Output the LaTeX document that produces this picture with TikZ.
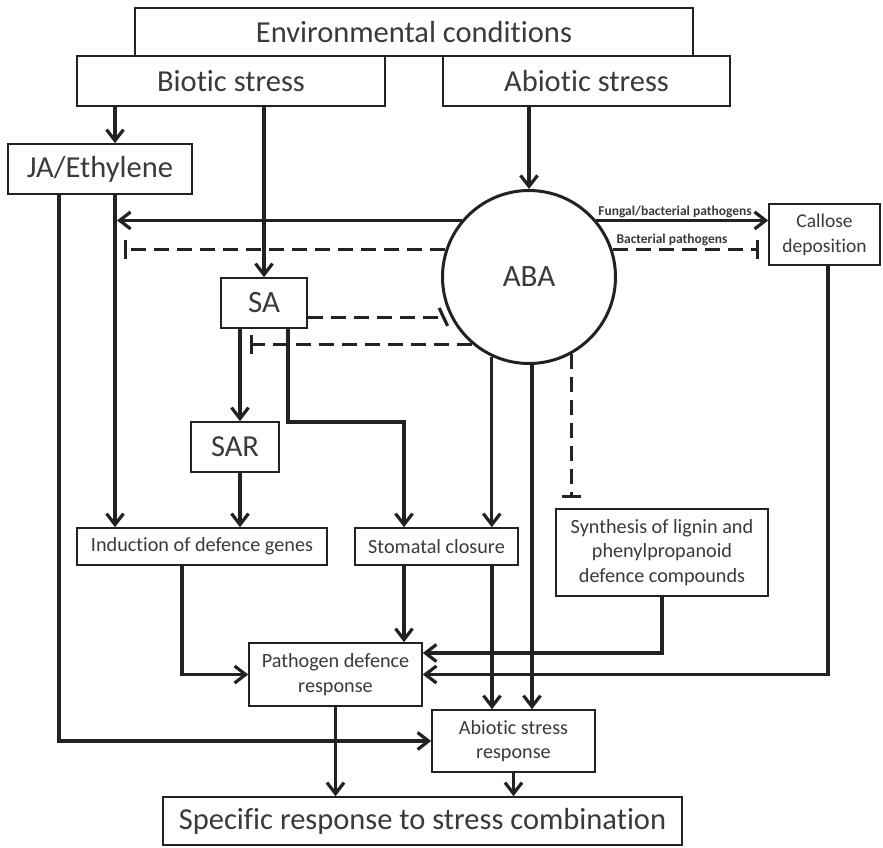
\documentclass[tikz,border=0pt]{standalone}
\usepackage{fontspec}
\setmainfont{Carlito}[Ligatures=NoCommon]
\usetikzlibrary{arrows.meta,calc}

\definecolor{ink}{HTML}{222222}
\definecolor{txt}{HTML}{3A3A3A}

\tikzset{
  box/.style={draw=ink, line width=1.6pt, fill=white, inner sep=0pt, text=txt, align=center},
  big/.style={font=\fontsize{30.5}{35}\selectfont},
  mid/.style={font=\fontsize{20.2}{24.5}\selectfont},
  link/.style={draw=ink, line width=3.2pt},
  arr/.style={link, -{Straight Barb[length=11pt,width=17pt]}},
  dsh/.style={link, dash pattern=on 15pt off 8pt},
  inh/.style={dsh, -{Bar[width=19pt]}},
  lbl/.style={font=\fontsize{13.5}{15}\selectfont\bfseries, text=txt, inner sep=0pt},
}

\begin{document}
\begin{tikzpicture}[x=1pt,y=-1pt]
\useasboundingbox (0,0) rectangle (883,847);

% boxes
\node[box,big,minimum width=558pt,minimum height=48pt] (env) at (414,32) {Environmental conditions};
\node[box,big,minimum width=308pt,minimum height=50pt] (biotic) at (231,81) {Biotic stress};
\node[box,big,minimum width=287pt,minimum height=50pt] (abiotic) at (586.5,81) {Abiotic stress};
\node[box,big,minimum width=184pt,minimum height=50pt] (ja) at (100,169) {JA/Ethylene};
\node[circle,draw=ink,line width=3pt,fill=white,minimum size=173pt,inner sep=0pt,text=txt,
      font=\fontsize{31}{35}\selectfont] (aba) at (529,277) {ABA};
\node[box,font=\fontsize{31}{35}\selectfont,minimum width=86pt,minimum height=50pt] (sa) at (264,303) {SA};
\node[box,font=\fontsize{30.5}{35}\selectfont,minimum width=88pt,minimum height=50pt] (sar) at (235,447) {SAR};
\node[box,font=\fontsize{19.5}{25}\selectfont,minimum width=111pt,minimum height=61pt] (callose) at (824.5,234.5) {Callose\\deposition};
\node[box,mid,minimum width=250pt,minimum height=37pt] (induction) at (202,546.5) {Induction of defence genes};
\node[box,mid,minimum width=163pt,minimum height=37pt] (stomatal) at (436.5,546.5) {Stomatal closure};
\node[box,mid,minimum width=212pt,minimum height=87pt] (synthesis) at (662,552.5) {Synthesis of lignin and\\phenylpropanoid\\defence compounds};
\node[box,mid,minimum width=173pt,minimum height=63pt] (pathogen) at (335.5,674.5) {Pathogen defence\\response};
\node[box,mid,minimum width=163pt,minimum height=62pt] (abresp) at (513.5,741) {Abiotic stress\\response};
\node[box,big,minimum width=519pt,minimum height=48pt] (specific) at (422.5,821) {Specific response to stress combination};

% connector columns and rows
\coordinate (x59) at (59,0);
\coordinate (x115) at (115,0);
\coordinate (x117) at (117,0);
\coordinate (x124) at (124,0);
\coordinate (x182) at (182,0);
\coordinate (x240) at (240,0);
\coordinate (x250) at (250,0);
\coordinate (x492) at (492,0);
\coordinate (x532) at (532,0);
\coordinate (x828) at (828,0);
\coordinate (y653) at (0,653);
\coordinate (k1) at (288,422);
\coordinate (k2) at (404,422);
\coordinate (saBar) at ($(aba.center)+(155:95)$);

% stress inputs
\draw[arr] (biotic.south -| x115) -- (ja.north -| x115);
\draw[arr] (biotic.south -| sa.north) -- (sa.north);
\draw[arr] (abiotic.south -| aba.north) -- (aba.north);

% ABA towards the left
\draw[arr] (aba.140) -- (aba.140 -| x117);
\draw[inh] (aba.162) -- (aba.162 -| x124);
\draw[inh] (aba.230) -- (aba.230 -| x250);
\draw[dsh] (sa.east |- saBar) -- (saBar);
\draw[link] ($(aba.center)+(149:95)$) -- ($(aba.center)+(161:95)$);

% ABA towards callose
\draw[arr] (aba.40) -- (callose.west |- aba.40);
\draw[inh, shorten >=9pt] (aba.18) -- (callose.west |- aba.18);
\node[lbl,anchor=base] (lblF) at (675,215) {Fungal/bacterial pathogens};
\node[lbl,anchor=base] (lblB) at (672,243) {Bacterial pathogens};

% middle tier
\draw[arr] (ja.south -| x115) -- (induction.north -| x115);
\draw[arr] (sa.south -| x240) -- (sar.north -| x240);
\draw[arr] (sar.south -| x240) -- (induction.north -| x240);
\draw[arr] (sa.south -| k1) -- (k1) -- (k2) -- (stomatal.north -| k2);
\draw[arr] (aba.245) -- (stomatal.north -| aba.245);
\draw[arr] (aba.south -| x532) -- (abresp.north -| x532);
\draw[inh, shorten >=10pt] (aba.299) -- (synthesis.north -| aba.299);

% responses
\draw[arr] (induction.south -| x182) |- (pathogen.west);
\draw[arr] (stomatal.south -| k2) -- (pathogen.north -| k2);
\draw[arr] (stomatal.south -| x492) -- (abresp.north -| x492);
\draw[arr] (synthesis.south) |- (pathogen.east |- y653);
\draw[arr] (callose.south -| x828) |- (pathogen.east);
\draw[arr] (ja.south -| x59) |- (abresp.west);
\draw[arr] (pathogen.south) -- (specific.north -| pathogen.south);
\draw[arr] (abresp.south) -- (specific.north -| abresp.south);
\end{tikzpicture}
\end{document}
